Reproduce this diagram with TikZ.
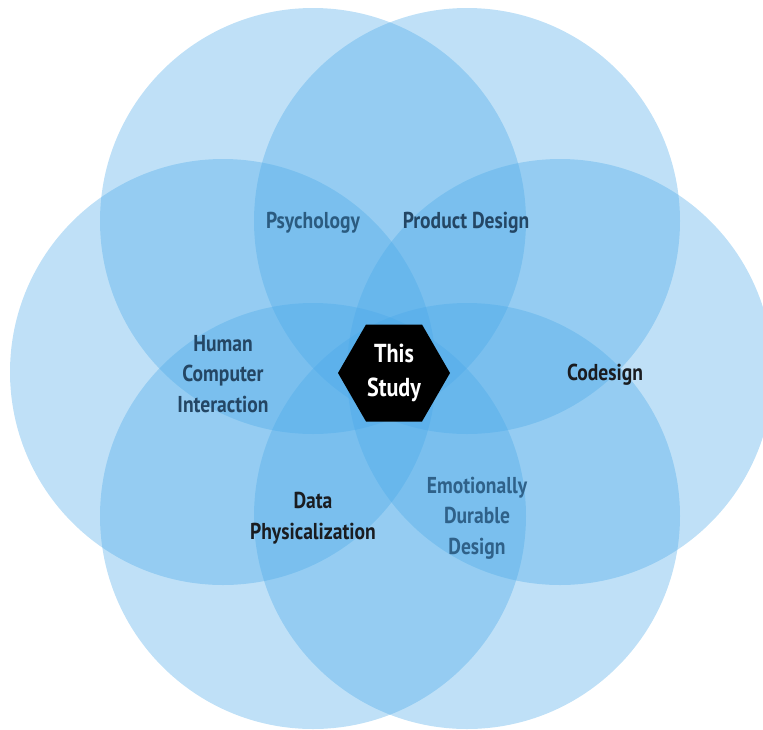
\documentclass[tikz,border=0pt]{standalone}
\usepackage{fontspec}
\setmainfont{PT Sans}[FakeStretch=0.85]
\usetikzlibrary{shapes.geometric}

\definecolor{ringblue}{RGB}{71,167,232}
\definecolor{inkblue}{RGB}{43,91,128}
\definecolor{inkslate}{RGB}{36,70,100}
\definecolor{inkdark}{RGB}{26,28,32}
\definecolor{inksoft}{RGB}{47,97,137}

\begin{document}
\begin{tikzpicture}[x=1pt, y=-1pt,
    ring/.style={fill=ringblue, fill opacity=0.35},
    topic/.style={font=\bfseries\fontsize{23}{30.5}\selectfont, align=center, inner sep=0pt},
    hexbox/.style={regular polygon, regular polygon sides=6, fill=black, text=white,
      minimum size=112pt, inner sep=0pt, font=\bfseries\fontsize{26}{34}\selectfont, align=center}]
  \useasboundingbox (0,0) rectangle (763,729);

  % Rings, top left round to the left
  \fill[ring] (313,221) circle (213pt);
  \fill[ring] (467,221) circle (213pt);
  \fill[ring] (560,372) circle (213pt);
  \fill[ring] (467,516) circle (213pt);
  \fill[ring] (313,516) circle (213pt);
  \fill[ring] (223,372) circle (213pt);

  % Fields
  \node[topic, text=inkblue] (psych) at (313,223) {Psychology};
  \node[topic, text=inkslate] (product) at (466,223) {Product Design};
  \node[topic, text=inkdark] (codesign) at (605,375) {Codesign};
  \node[topic, text=inksoft] (durable) at (477,518) {Emotionally\\Durable\\Design};
  \node[topic, text=inkdark] (dataphys) at (313,518) {Data\\Physicalization};
  \node[topic, text=inkslate] (hci) at (223,374) {Human\\Computer\\Interaction};

  % Centre
  \node[hexbox] (study) at (394,373) {This\\Study};
\end{tikzpicture}
\end{document}
